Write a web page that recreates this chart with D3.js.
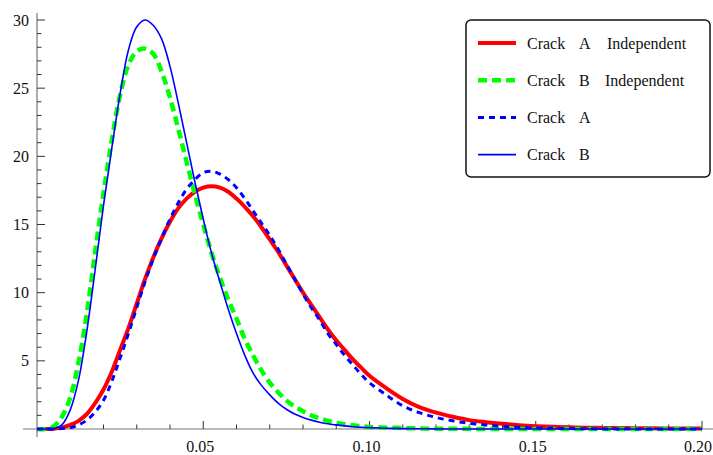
<!DOCTYPE html>
<html>

<head>
    <meta charset="utf-8">
    <style>
        body {
            margin: 0;
            background: white;
        }

        svg {
            display: block;
        }
    </style>
</head>

<body>
    <svg width="713" height="455"></svg>
</body>

<script src="https://d3js.org/d3.v7.min.js"></script>

<script>
    let xs = [0, 0.0025, 0.005, 0.0075, 0.01, 0.0125, 0.015, 0.0175, 0.02, 0.0225,
        0.025, 0.0275, 0.03, 0.0325, 0.035, 0.0375, 0.04, 0.0425, 0.045, 0.0475,
        0.05, 0.0525, 0.055, 0.0575, 0.06, 0.0625, 0.065, 0.0675, 0.07, 0.0725,
        0.075, 0.0775, 0.08, 0.0825, 0.085, 0.0875, 0.09, 0.0925, 0.095, 0.0975,
        0.1, 0.105, 0.11, 0.115, 0.12, 0.125, 0.13, 0.135, 0.14, 0.145,
        0.15, 0.155, 0.16, 0.165, 0.17, 0.175, 0.18, 0.185, 0.19, 0.195, 0.2]

    let crackAIndep = [0, 0, 0.02, 0.1, 0.3, 0.6, 1.1, 1.9, 2.9, 4.2,
        5.8, 7.4, 9.2, 11.0, 12.6, 14.0, 15.2, 16.2, 16.9, 17.4,
        17.7, 17.8, 17.7, 17.4, 16.9, 16.3, 15.6, 14.8, 13.9, 13.0,
        12.0, 11.0, 10.0, 9.1, 8.2, 7.3, 6.5, 5.8, 5.1, 4.5,
        3.9, 3.0, 2.2, 1.6, 1.2, 0.9, 0.65, 0.5, 0.38, 0.28,
        0.21, 0.16, 0.12, 0.1, 0.08, 0.07, 0.06, 0.05, 0.04, 0.03, 0.03]

    let crackBIndep = [0, 0, 0.2, 0.9, 2.3, 4.9, 8.5, 13.0, 17.3, 21.2,
        24.5, 26.7, 27.7, 27.9, 27.5, 26.2, 24.3, 22.0, 19.6, 17.2,
        15.0, 12.9, 11.1, 9.5, 8.1, 6.6, 5.4, 4.3, 3.4, 2.7,
        2.1, 1.65, 1.3, 1.0, 0.78, 0.6, 0.45, 0.35, 0.27, 0.2,
        0.15, 0.1, 0.07, 0.04, 0.02, 0.01, 0.01, 0, 0, 0,
        0, 0, 0, 0, 0, 0, 0, 0, 0, 0, 0]

    let crackA = [0, 0, 0, 0.03, 0.1, 0.3, 0.65, 1.25, 2.1, 3.5,
        5.2, 7.0, 8.9, 10.8, 12.5, 14.0, 15.4, 16.6, 17.6, 18.3,
        18.8, 18.9, 18.7, 18.3, 17.7, 16.9, 16.0, 15.1, 14.2, 13.2,
        12.1, 11.0, 9.9, 8.9, 8.0, 7.0, 6.2, 5.4, 4.7, 4.0,
        3.4, 2.5, 1.7, 1.2, 0.85, 0.6, 0.42, 0.3, 0.2, 0.13,
        0.08, 0.05, 0.03, 0.02, 0.01, 0, 0, 0, 0, 0, 0]

    let crackB = [0, 0, 0.02, 0.3, 1.4, 3.6, 7.2, 11.7, 16.4, 20.6,
        24.6, 27.8, 29.5, 30.0, 29.6, 28.6, 26.6, 23.9, 21.0, 18.1,
        15.4, 12.9, 10.8, 8.8, 7.0, 5.4, 4.1, 3.2, 2.5, 1.9,
        1.45, 1.1, 0.85, 0.65, 0.5, 0.38, 0.3, 0.23, 0.17, 0.13,
        0.1, 0.06, 0.03, 0.02, 0.01, 0, 0, 0, 0, 0,
        0, 0, 0, 0, 0, 0, 0, 0, 0, 0, 0]

    let xTickValues = [0.05, 0.10, 0.15, 0.20]
    let yTickValues = [5, 10, 15, 20, 25, 30]

    let legendNames = [["Crack", "A", "Independent"], ["Crack", "B", "Independent"], ["Crack", "A"], ["Crack", "B"]]

    let series = [
        { values: crackAIndep, color: "#ff0000", width: 4, dash: null },
        { values: crackBIndep, color: "#00ff00", width: 4.5, dash: "9,5" },
        { values: crackA, color: "#0000ff", width: 3, dash: "6,5" },
        { values: crackB, color: "#0000ff", width: 1.6, dash: null }
    ]

    let font = "'Liberation Serif', 'DejaVu Serif', serif"

    let svg = d3.select("svg")

    let x = d3.scaleLinear().domain([0, 0.2]).range([37, 702])
    let y = d3.scaleLinear().domain([0, 30]).range([429, 20])

    // axes, Mathematica style: crossing at the origin, ticks pointing in
    let axes = svg.append("g").attr("class", "axes")

    axes.append("line")
        .attr("x1", 23).attr("x2", 713)
        .attr("y1", y(0)).attr("y2", y(0))
        .attr("stroke", "#777").attr("stroke-width", 1.2)

    axes.append("line")
        .attr("x1", x(0)).attr("x2", x(0))
        .attr("y1", 13).attr("y2", 437)
        .attr("stroke", "#777").attr("stroke-width", 1.2)

    let xMinor = d3.range(1, 21).map(d => d / 100)
    axes.selectAll(".xtick")
        .data(xMinor)
        .join("line")
        .attr("class", "xtick")
        .attr("x1", d => x(d)).attr("x2", d => x(d))
        .attr("y1", y(0))
        .attr("y2", (d, i) => (i + 1) % 5 == 0 ? y(0) - 8 : y(0) - 4.5)
        .attr("stroke", "#333").attr("stroke-width", 1)

    let yMinor = d3.range(1, 31)
    axes.selectAll(".ytick")
        .data(yMinor)
        .join("line")
        .attr("class", "ytick")
        .attr("y1", d => y(d)).attr("y2", d => y(d))
        .attr("x1", x(0))
        .attr("x2", d => d % 5 == 0 ? x(0) + 8 : x(0) + 4.5)
        .attr("stroke", "#333").attr("stroke-width", 1)

    axes.selectAll(".xlabel")
        .data(xTickValues)
        .join("text")
        .attr("class", "xlabel")
        .attr("x", (d, i) => i == xTickValues.length - 1 ? 712 : x(d) - 3)
        .attr("y", 452)
        .attr("text-anchor", (d, i) => i == xTickValues.length - 1 ? "end" : "middle")
        .attr("font-family", font).attr("font-size", 16).attr("fill", "#111")
        .text(d => d.toFixed(2))

    axes.selectAll(".ylabel")
        .data(yTickValues)
        .join("text")
        .attr("class", "ylabel")
        .attr("x", 29)
        .attr("y", d => y(d) + 5.5)
        .attr("text-anchor", "end")
        .attr("font-family", font).attr("font-size", 16).attr("fill", "#111")
        .text(d => d)

    // curves
    let line = d3.line()
        .x((d, i) => x(xs[i]))
        .y(d => y(d))
        .curve(d3.curveCatmullRom.alpha(0.5))

    svg.append("g")
        .selectAll("path")
        .data(series)
        .join("path")
        .attr("d", d => line(d.values))
        .attr("fill", "none")
        .attr("stroke", d => d.color)
        .attr("stroke-width", d => d.width)
        .attr("stroke-dasharray", d => d.dash)

    // legend
    let legend = svg.append("g").attr("class", "legend")

    legend.append("rect")
        .attr("x", 466).attr("y", 20)
        .attr("width", 244).attr("height", 157)
        .attr("rx", 5).attr("ry", 5)
        .attr("fill", "white")
        .attr("stroke", "#111").attr("stroke-width", 1.5)

    let rows = legend.selectAll(".row")
        .data(series)
        .join("g")
        .attr("class", "row")
        .attr("transform", (d, i) => "translate(0," + (43 + i * 37.2) + ")")

    rows.append("line")
        .attr("x1", 478).attr("x2", 516)
        .attr("y1", 0).attr("y2", 0)
        .attr("stroke", d => d.color)
        .attr("stroke-width", d => d.width)
        .attr("stroke-dasharray", d => d.dash)

    let wordX = [[527, 579, 607], [527, 579, 605], [527, 579], [527, 579]]

    rows.each(function (d, i) {
        let t = d3.select(this).append("text")
            .attr("y", 5.5)
            .attr("font-family", font).attr("font-size", 16).attr("fill", "#111")
        legendNames[i].forEach((w, j) => {
            t.append("tspan").attr("x", wordX[i][j]).text(w)
        })
    })
</script>

</html>
